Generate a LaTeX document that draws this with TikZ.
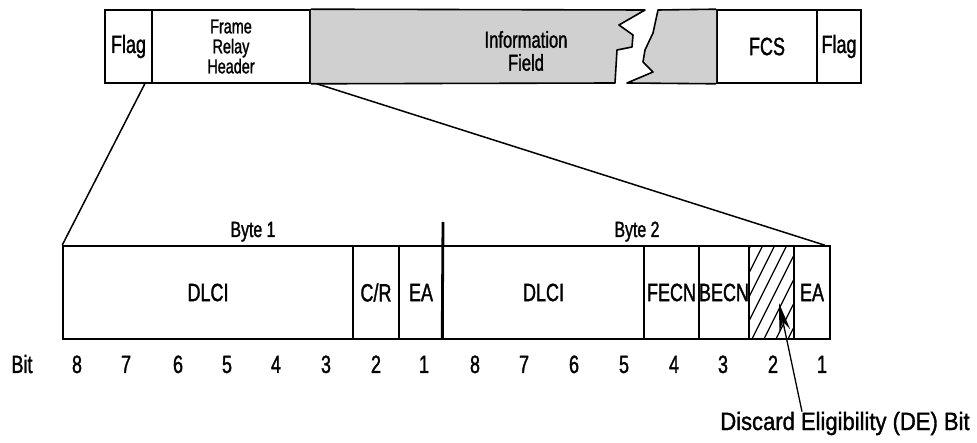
\documentclass[tikz,border=0pt]{standalone}
\usepackage{fontspec}
\setmainfont{Liberation Sans}[FakeStretch=0.72,FakeBold=1.3]
\newfontfamily\debitfont{Liberation Sans}[FakeStretch=0.88,FakeBold=1.3]
\usetikzlibrary{arrows.meta}
\definecolor{infogray}{HTML}{D0D0D0}
\tikzset{
	fieldnode/.style={
			draw=black,
			line width=1.6pt,
			fill=white,
			inner sep=0pt,
			font=\fontsize{25}{22}\selectfont,
			align=center
		},
	topnode/.style={
			fieldnode,
			minimum height=73
		},
	lownode/.style={
			fieldnode,
			minimum height=93
		},
	infopiece/.style={
			fill=infogray,
			draw=black,
			line width=1.6pt,
			line join=round
		},
	bitnode/.style={
			anchor=base,
			inner sep=0pt,
			font=\fontsize{25}{25}\selectfont
		},
	bytenode/.style={
			anchor=base,
			inner sep=0pt,
			font=\fontsize{22}{22}\selectfont
		},
	zoomline/.style={
			draw=black,
			line width=1.5pt
		},
	bytedivider/.style={
			draw=black,
			line width=2.8pt
		},
	hatchline/.style={
			draw=black,
			line width=1.2pt
		},
	dearrow/.style={
			draw=black,
			line width=1.3pt,
			-{Stealth[length=28pt,width=11pt]}
		}
}

\begin{document}
\begin{tikzpicture}[x=1pt,y=-1pt]
\useasboundingbox (0,0) rectangle (977,443);

\node[topnode, minimum width=47] (hFlagL) at (128.5,46.5) {Flag};
\node[topnode, minimum width=158, font=\fontsize{20}{20}\selectfont] (hHdr) at (231,46.5) {Frame\\Relay\\Header};
\node[topnode, minimum width=100] (hFcs) at (767,46.5) {FCS};
\node[topnode, minimum width=44] (hFlagR) at (839,46.5) {Flag};

\path[infopiece] (hHdr.north east) -- (645,10) -- (619,25) -- (633,35) -- (632,47) -- (617,50) -- (615,83) -- (hHdr.south east);
\path[infopiece] (hFcs.north west) -- (658,10) -- (653,33) -- (645,50) -- (643,62) -- (653,72) -- (627,83) -- (hFcs.south west);
\node[inner sep=0pt, align=center, font=\fontsize{23}{23}\selectfont] (hInfo) at (526,51) {Information\\Field};

\node[lownode, minimum width=290] (bDlciA) at (208,292.5) {DLCI};
\node[lownode, minimum width=46] (bCr) at (376,292.5) {C/R};
\node[lownode, minimum width=44] (bEaA) at (421,292.5) {EA};
\node[lownode, minimum width=201] (bDlciB) at (543.5,292.5) {DLCI};
\node[lownode, minimum width=55] (bFecn) at (671.5,292.5) {FECN};
\node[lownode, minimum width=50] (bBecn) at (724,292.5) {BECN};
\node[lownode, minimum width=45] (bDe) at (771.5,292.5) {};
\node[lownode, minimum width=36] (bEaB) at (812,292.5) {EA};

\begin{scope}
\clip (bDe.south west) rectangle (bDe.north east);
\foreach \k in {692,704,...,800}
  \draw[hatchline] (\k,339) -- ++(46,-92);
\end{scope}

\coordinate (byteTop) at (443,222);
\draw[bytedivider] (bDlciB.south west) -- (byteTop);

\draw[zoomline] ([xshift=-8pt]hFlagL.south east) -- (bDlciA.north west);
\draw[zoomline] ([xshift=6pt]hHdr.south east) -- ([xshift=-6pt]bEaB.north east);

\node[bytenode] (byteA) at (253,237) {Byte 1};
\node[bytenode] (byteB) at (637,237) {Byte 2};

\node[bitnode] (bitLbl) at (22,373) {Bit};
\node[bitnode] (b8a) at (77,373) {8};
\node[bitnode] (b7a) at (126,373) {7};
\node[bitnode] (b6a) at (178,373) {6};
\node[bitnode] (b5a) at (227,373) {5};
\node[bitnode] (b4a) at (276,373) {4};
\node[bitnode] (b3a) at (326,373) {3};
\node[bitnode] (b2a) at (376,373) {2};
\node[bitnode] (b1a) at (424,373) {1};
\node[bitnode] (b8b) at (475,373) {8};
\node[bitnode] (b7b) at (524,373) {7};
\node[bitnode] (b6b) at (574,373) {6};
\node[bitnode] (b5b) at (624,373) {5};
\node[bitnode] (b4b) at (674,373) {4};
\node[bitnode] (b3b) at (723,373) {3};
\node[bitnode] (b2b) at (773,373) {2};
\node[bitnode] (b1b) at (822,373) {1};

\node[bitnode, font=\fontsize{25}{25}\debitfont] (deLbl) at (845,430) {Discard Eligibility (DE) Bit};
\coordinate (deTip) at (779,303);
\draw[dearrow] ([xshift=-43pt]deLbl.north) -- (deTip);

\end{tikzpicture}
\end{document}
